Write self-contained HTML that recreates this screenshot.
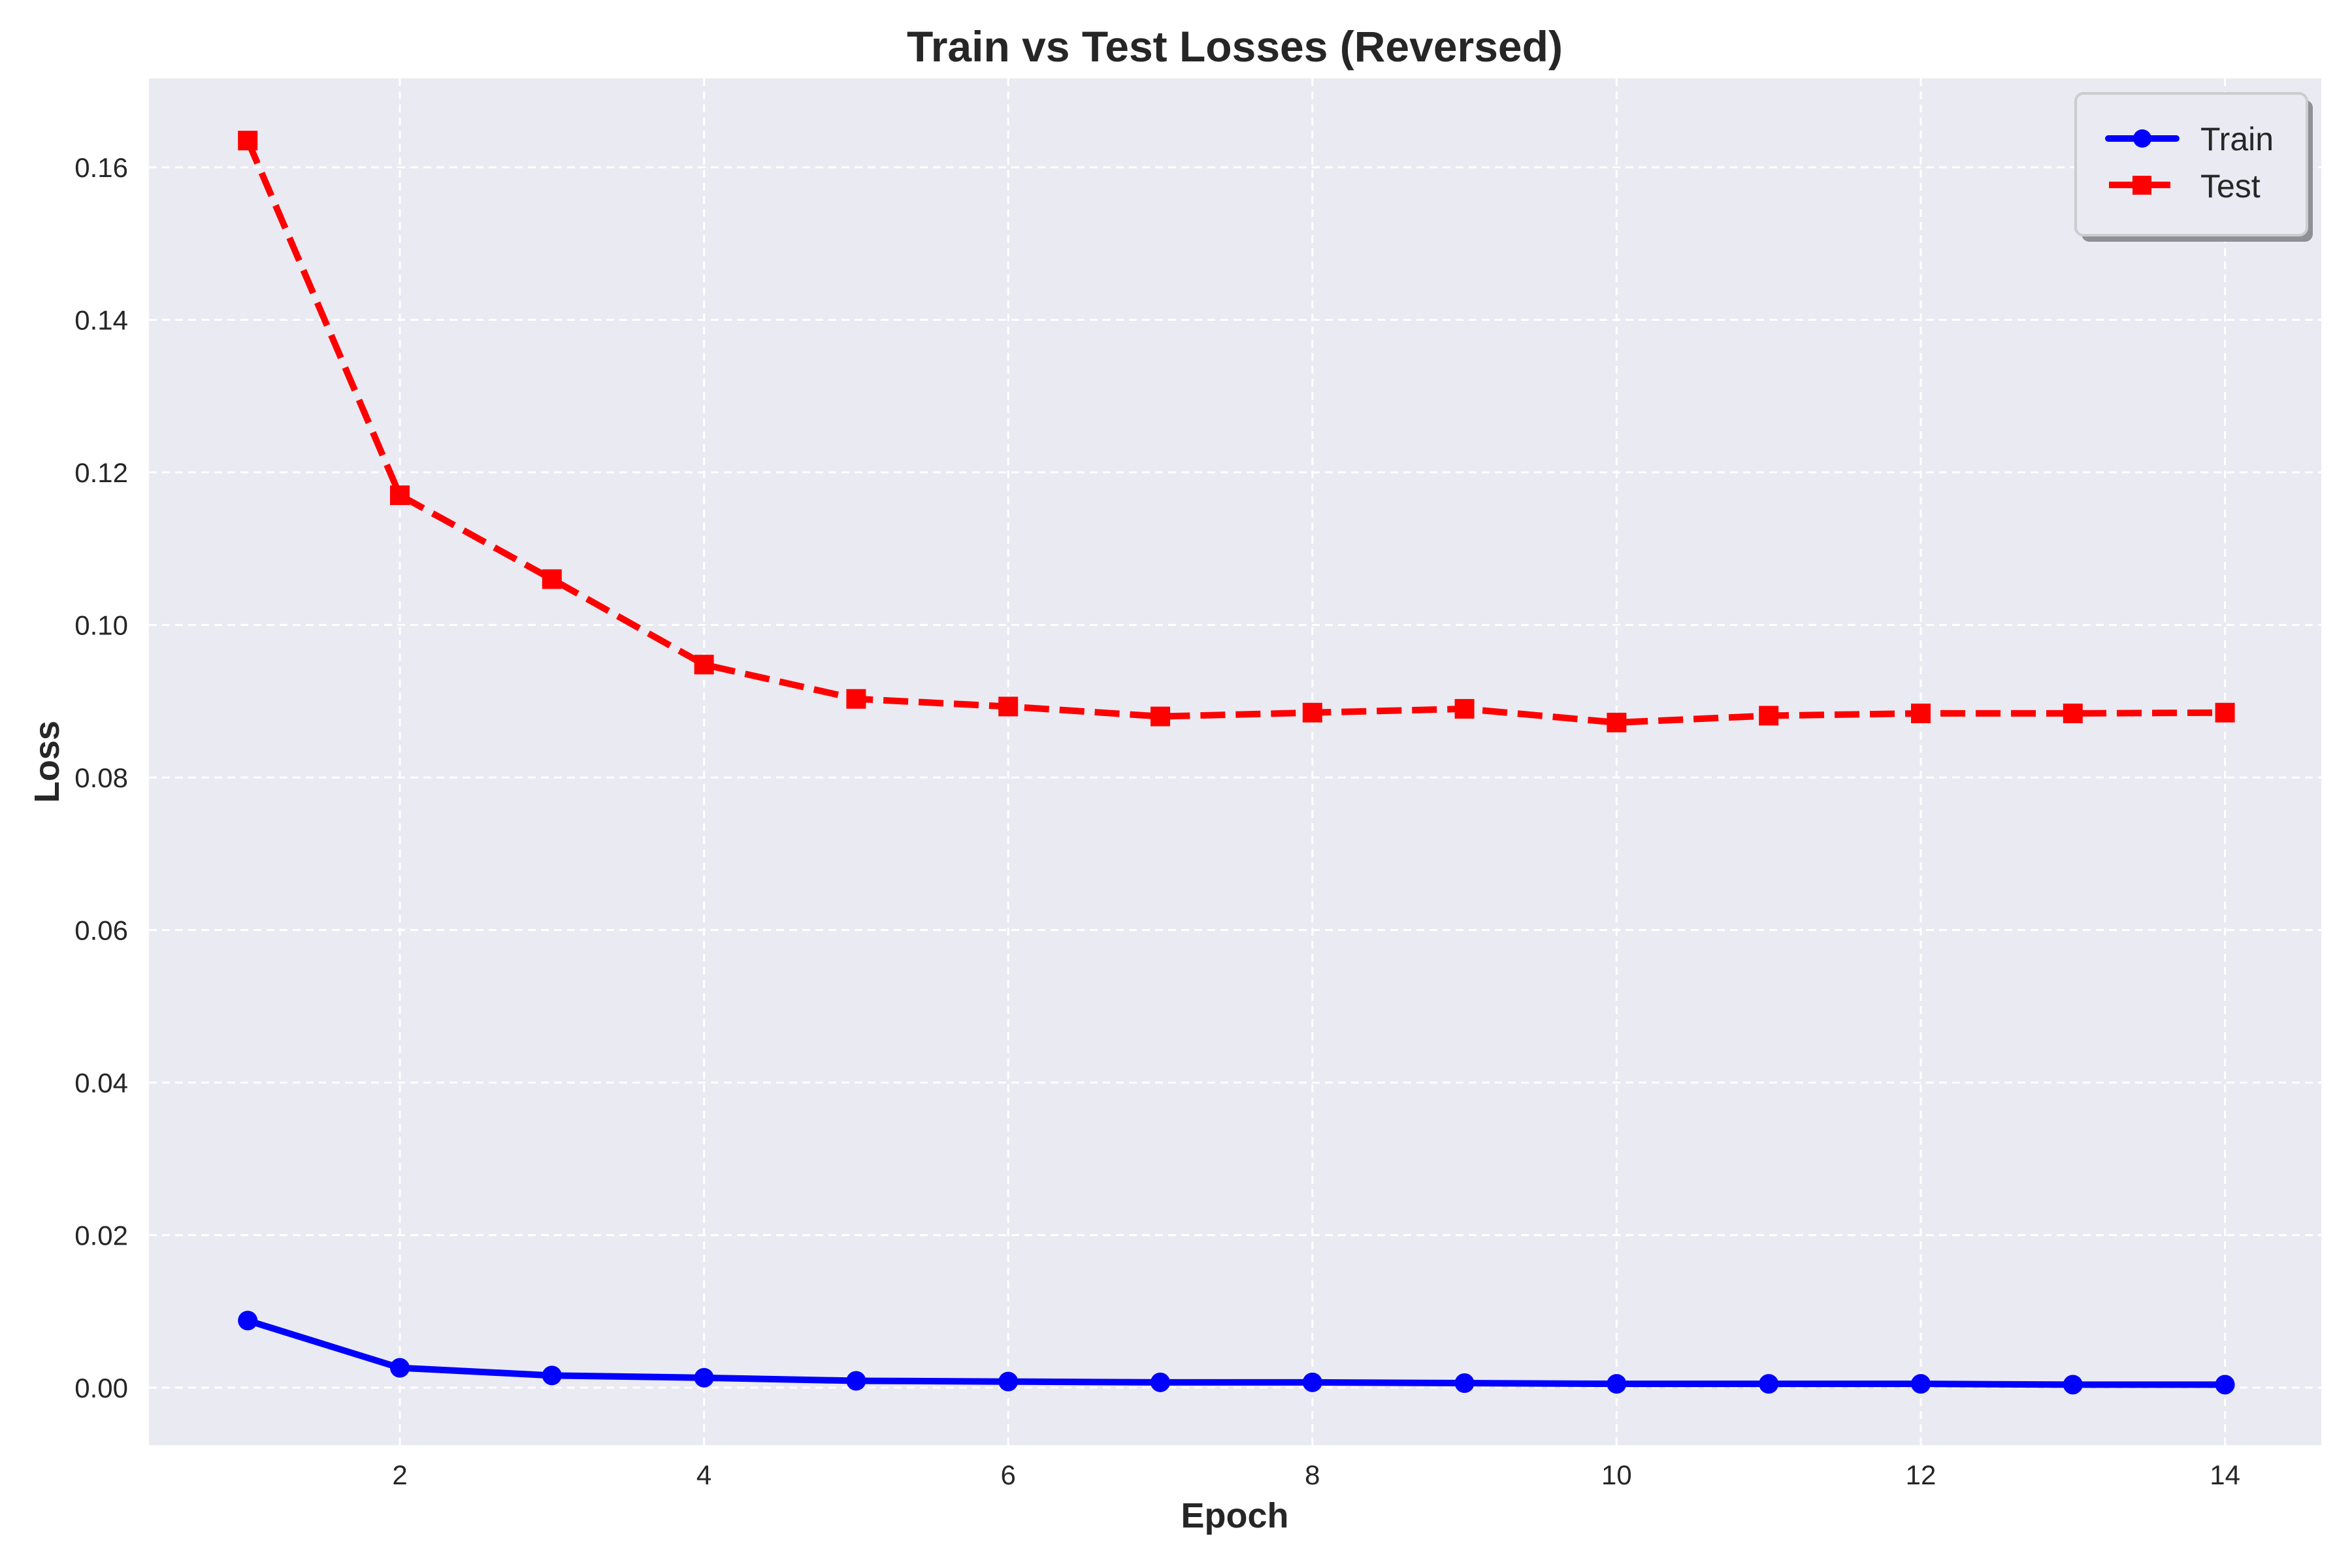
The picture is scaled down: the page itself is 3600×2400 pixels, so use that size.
<!DOCTYPE html>
<html><head><meta charset="utf-8"><style>
html,body{margin:0;padding:0;background:#fff}
svg{display:block;font-family:"Liberation Sans",Arial,sans-serif}
</style></head><body>
<svg id="chart" width="3600" height="2400" viewBox="0 0 3600 2400" xmlns="http://www.w3.org/2000/svg">
<rect x="0" y="0" width="3600" height="2400" fill="#ffffff"/>
<rect x="228" y="120" width="3325" height="2092" fill="#EAEAF2"/>
<g id="grid"></g>
<g id="ticks"></g>
<g id="series"></g>
<text x="1890" y="94" text-anchor="middle" font-size="66" font-weight="bold" fill="#262626">Train vs Test Losses (Reversed)</text>
<text x="1890" y="2338" text-anchor="middle" font-size="54" font-weight="bold" fill="#262626">Epoch</text>
<text transform="translate(90,1166) rotate(-90)" text-anchor="middle" font-size="54" font-weight="bold" fill="#262626">Loss</text>
<g>
<rect x="3186" y="153" width="354" height="217" rx="12" fill="#8f8f96"/>
<rect x="3177" y="143" width="354" height="217" rx="12" fill="#EAEAF2" stroke="#cccccc" stroke-width="4"/>
<g>
<line x1="3227" y1="212" x2="3331" y2="212" stroke="#0000ff" stroke-width="10" stroke-linecap="round"/>
<circle cx="3279" cy="212" r="14" fill="#0000ff"/>
<text x="3368" y="230" font-size="50" fill="#262626">Train</text>
</g>
<g>
<line x1="3228" y1="283" x2="3322" y2="283" stroke="#ff0000" stroke-width="10"/>
<rect x="3264" y="269" width="29" height="29" fill="#ff0000"/>
<text x="3368" y="302" font-size="50" fill="#262626">Test</text>
</g>
</g>
</svg>
<script>
const epochs=[1,2,3,4,5,6,7,8,9,10,11,12,13,14];
const trainLoss=[0.0088,0.0026,0.0016,0.0013,0.0009,0.0008,0.0007,0.0007,0.0006,0.0005,0.0005,0.0005,0.0004,0.0004];
const testLoss=[0.1635,0.117,0.106,0.0948,0.0903,0.0893,0.0880,0.0885,0.0890,0.0872,0.0881,0.0884,0.0884,0.0885];
const xTicks=[2,4,6,8,10,12,14];
const yTicks=[0,0.02,0.04,0.06,0.08,0.10,0.12,0.14,0.16];
const NS='http://www.w3.org/2000/svg';
const PL=228,PR=3553,PT=120,PB=2212;
function xs(v){return 612+(v-2)*232.8;}
function ys(v){return 2124-v*11675;}
function mk(tag,attrs,parent){const e=document.createElementNS(NS,tag);for(const k in attrs)e.setAttribute(k,attrs[k]);parent.appendChild(e);return e;}
const grid=document.getElementById('grid'),ticks=document.getElementById('ticks'),series=document.getElementById('series');
xTicks.forEach(t=>{
 const l=mk('line',{x1:xs(t),x2:xs(t),y1:PT,y2:PB,stroke:'#ffffff','stroke-width':3,'stroke-dasharray':'12 8'},grid);
 
 
 const tx=mk('text',{x:xs(t),y:2272,'text-anchor':'middle','font-size':42,fill:'#262626'},ticks);
 tx.textContent=String(t);
 
 
});
yTicks.forEach(t=>{
 const l=mk('line',{x1:PL,x2:PR,y1:ys(t),y2:ys(t),stroke:'#ffffff','stroke-width':3,'stroke-dasharray':'12 8'},grid);
 
 
 const tx=mk('text',{x:196,y:ys(t)+15,'text-anchor':'end','font-size':42,fill:'#262626'},ticks);
 tx.textContent=t.toFixed(2);
 
 
});
function pts(arr){return epochs.map((e,i)=>xs(e)+','+ys(arr[i])).join(' ');}
const tl=mk('polyline',{points:pts(testLoss),fill:'none',stroke:'#ff0000','stroke-width':10,'stroke-dasharray':'38 16'},series);


epochs.forEach((e,i)=>{
 const r=mk('rect',{x:xs(e)-15,y:ys(testLoss[i])-15,width:30,height:30,fill:'#ff0000'},series);
 
 
});
const trl=mk('polyline',{points:pts(trainLoss),fill:'none',stroke:'#0000ff','stroke-width':10,'stroke-linejoin':'round'},series);


epochs.forEach((e,i)=>{
 const c=mk('circle',{cx:xs(e),cy:ys(trainLoss[i]),r:15,fill:'#0000ff'},series);
 
 
});
</script>
</body></html>
